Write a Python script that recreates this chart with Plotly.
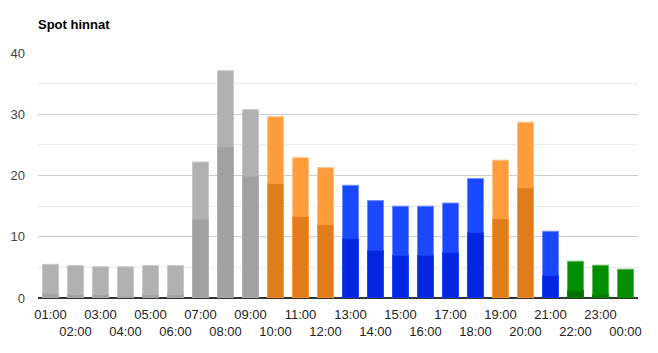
import plotly.graph_objects as go

hours = ["01:00", "02:00", "03:00", "04:00", "05:00", "06:00", "07:00", "08:00",
         "09:00", "10:00", "11:00", "12:00", "13:00", "14:00", "15:00", "16:00",
         "17:00", "18:00", "19:00", "20:00", "21:00", "22:00", "23:00", "00:00"]
total_price = [5.5, 5.3, 5.1, 5.1, 5.3, 5.3, 22.2, 37.1, 30.75, 29.6, 22.9, 21.3,
               18.4, 15.9, 15.0, 15.0, 15.5, 19.5, 22.5, 28.7, 10.9, 6.0, 5.35, 4.7]
spot_price = [0.7, 0.55, 0.55, 0.33, 0.55, 0.55, 12.85, 24.7, 19.9, 18.7, 13.3, 12.0,
              9.7, 7.8, 7.0, 7.0, 7.45, 10.7, 12.95, 18.0, 3.7, 1.25, 0.55, 0.1]
tier = ["gray"] * 9 + ["orange"] * 3 + ["blue"] * 6 + ["orange"] * 2 + ["blue"] + ["green"] * 3

light = {"gray": "#b1b1b1", "orange": "#ff9d3b", "blue": "#1a48ff", "green": "#008f00"}
dark = {"gray": "#a1a1a1", "orange": "#e07c1a", "blue": "#0426e0", "green": "#007000"}
edge = {"gray": "#c8c8c8", "orange": "#ffc48a", "blue": "#6f8cff", "green": "#5fb85f"}

fig = go.Figure()
fig.add_trace(go.Bar(
    x=hours, y=total_price, width=0.64,
    marker=dict(color=[light[t] for t in tier],
                line=dict(color=[edge[t] for t in tier], width=1)),
    hoverinfo="x+y", name="Hinta"))
fig.add_trace(go.Bar(
    x=hours, y=spot_price, width=0.64,
    marker=dict(color=[dark[t] for t in tier],
                line=dict(color=[light[t] for t in tier], width=1)),
    hoverinfo="x+y", name="Spot"))

ticktext = [h if i % 2 == 0 else "<br>" + h for i, h in enumerate(hours)]

fig.update_layout(
    width=658, height=353,
    margin=dict(l=38, r=20, t=53, b=55),
    paper_bgcolor="white", plot_bgcolor="white",
    barmode="overlay", showlegend=False,
    font=dict(family="Liberation Sans, Arial, sans-serif", size=13, color="#444"),
    title=dict(text="<b>Spot hinnat</b>", x=38 / 658, xanchor="left",
               y=1 - 24 / 353, yanchor="middle",
               font=dict(size=13, color="#000")),
    xaxis=dict(type="category", tickmode="array", tickvals=hours, ticktext=ticktext,
               tickangle=0, showgrid=False, showline=False, ticks="",
               range=[-0.5, 23.5], fixedrange=True, ticklabelstandoff=7,
               tickfont=dict(size=13, color="#222")),
    yaxis=dict(range=[0, 40], tickvals=[0, 10, 20, 30, 40], showgrid=True,
               gridcolor="#cccccc", gridwidth=1, zeroline=True,
               zerolinecolor="#333333", zerolinewidth=1.5, ticks="",
               tickfont=dict(size=13, color="#444"), ticklabelstandoff=12,
               minor=dict(tickvals=[5, 15, 25, 35], showgrid=True,
                          gridcolor="#ebebeb", gridwidth=1)),
)

fig.write_html("out.html")
